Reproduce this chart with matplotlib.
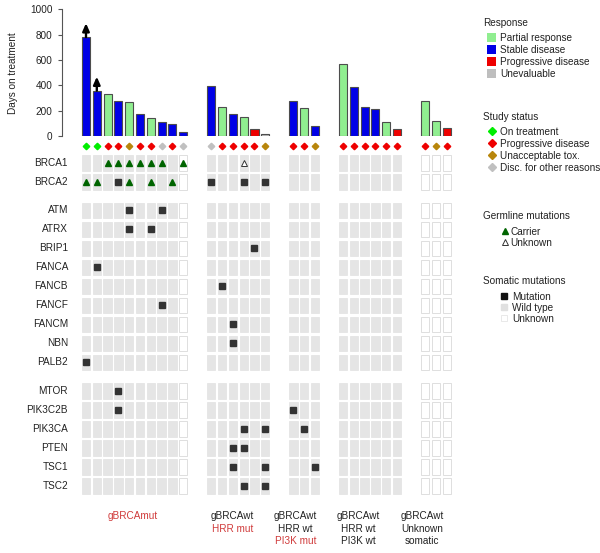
"""
Swimmer-style bar chart of days on treatment with a mutation grid below.
"""

import numpy as np
import matplotlib
matplotlib.use("Agg")
import matplotlib.pyplot as plt
from matplotlib.patches import Patch
from matplotlib.lines import Line2D

plt.rcParams["font.family"] = ["Liberation Sans", "DejaVu Sans"]


# ------------------------------------------------------------------
# Data
# ------------------------------------------------------------------
group_sizes = [10, 6, 3, 6, 3]
group_lines = [
    ["gBRCAmut"],
    ["gBRCAwt", "HRR mut"],
    ["gBRCAwt", "HRR wt", "PI3K mut"],
    ["gBRCAwt", "HRR wt", "PI3K wt"],
    ["gBRCAwt", "Unknown", "somatic"],
]
group_lines_red = [
    [True],
    [False, True],
    [False, False, True],
    [False, False, False],
    [False, False, False],
]

days = [780, 358, 332, 279, 266, 171, 142, 113, 97, 29,
        397, 226, 171, 147, 58, 13,
        279, 221, 79,
        566, 389, 226, 211, 111, 53,
        276, 118, 63]
response = ["SD", "SD", "PR", "SD", "PR", "SD", "PR", "SD", "SD", "SD",
            "SD", "PR", "SD", "PR", "PD", "NE",
            "SD", "PR", "SD",
            "PR", "SD", "SD", "SD", "PR", "PD",
            "PR", "PR", "PD"]
status = ["on", "on", "pd", "pd", "tox", "pd", "pd", "other", "pd", "other",
          "other", "pd", "pd", "pd", "pd", "tox",
          "pd", "pd", "tox",
          "pd", "pd", "pd", "pd", "pd", "pd",
          "pd", "tox", "pd"]
ongoing = [0, 1]                       # patients still on treatment (arrows)
somatic_unknown = [9, 25, 26, 27]      # patients with no somatic data

gene_blocks = [
    ["BRCA1", "BRCA2"],
    ["ATM", "ATRX", "BRIP1", "FANCA", "FANCB", "FANCF", "FANCM", "NBN", "PALB2"],
    ["MTOR", "PIK3C2B", "PIK3CA", "PTEN", "TSC1", "TSC2"],
]

germline_carrier = {"BRCA1": [2, 3, 4, 5, 6, 7, 9],
                    "BRCA2": [0, 1, 4, 6, 8]}
germline_unknown = {"BRCA1": [13]}

somatic = {
    "BRCA2": [3, 10, 13, 15],
    "ATM": [4, 7],
    "ATRX": [4, 6],
    "BRIP1": [14],
    "FANCA": [1],
    "FANCB": [11],
    "FANCF": [7],
    "FANCM": [12],
    "NBN": [12],
    "PALB2": [0],
    "MTOR": [3],
    "PIK3C2B": [3, 16],
    "PIK3CA": [13, 15, 17],
    "PTEN": [12, 13],
    "TSC1": [12, 15, 18],
    "TSC2": [13, 15],
}

# ------------------------------------------------------------------
# Styles
# ------------------------------------------------------------------
RESP_COL = {"PR": "#90EE90", "SD": "#0000E6", "PD": "#EE0000", "NE": "#BEBEBE"}
RESP_LAB = {"PR": "Partial response", "SD": "Stable disease",
            "PD": "Progressive disease", "NE": "Unevaluable"}
STAT_COL = {"on": "#00EE00", "pd": "#EE0000", "tox": "#B8860B", "other": "#C0C0C0"}
STAT_LAB = {"on": "On treatment", "pd": "Progressive disease",
            "tox": "Unacceptable tox.", "other": "Disc. for other reasons"}
RED_TXT = "#D03A3A"
TXT = "#222222"
CELL = "#E5E5E5"
MUT = "#333333"
GERM = "#006400"
FS = 7.2

# ------------------------------------------------------------------
# Layout (pixels of a 600x553 canvas)
# ------------------------------------------------------------------
W, H = 600, 553
PX = 10.8        # pixels per column
X0 = 86          # pixel of first column centre
GAP = 1.6        # extra columns between groups
AX_L, AX_R = 40, 470

xpos = []
start = 0.0
centers = []
for n in group_sizes:
    xpos.extend(start + np.arange(n))
    centers.append(start + (n - 1) / 2)
    start += n + GAP
xpos = np.array(xpos)

rows = []
genes = []
r = 0.0
for block in gene_blocks:
    for g in block:
        genes.append(g)
        rows.append(r)
        r += 1
    r += 0.5
gene_row = dict(zip(genes, rows))


def rect(l, t, rr, b):
    return [l / W, 1 - b / H, (rr - l) / W, (b - t) / H]


xlim = ((AX_L - X0) / PX, (AX_R - X0) / PX)

fig = plt.figure(figsize=(6, 5.53), dpi=100)

# ------------------------------------------------------------------
# Bars
# ------------------------------------------------------------------
ax = fig.add_axes(rect(AX_L, 9.3, AX_R, 136))
ax.bar(xpos, days, width=0.75,
       color=[RESP_COL[k] for k in response],
       edgecolor="#4D4D4D", linewidth=0.8, zorder=2)
for i in ongoing:
    ax.annotate("", xy=(xpos[i], days[i] + 110), xytext=(xpos[i], days[i]),
                arrowprops=dict(arrowstyle="-|>,head_length=0.45,head_width=0.2",
                                lw=1.7, color="black", shrinkA=0, shrinkB=0))
ax.set_xlim(*xlim)
ax.set_ylim(0, 1000)
ax.set_yticks(np.arange(0, 1001, 200))
for s in ["top", "right", "bottom"]:
    ax.spines[s].set_visible(False)
ax.spines["left"].set_position(("data", (62 - X0) / PX))
ax.spines["left"].set_bounds(0, 1000)
ax.spines["left"].set_color("#555555")
ax.spines["left"].set_linewidth(0.8)
ax.set_xticks([])
ax.tick_params(axis="y", labelsize=FS, length=3, width=0.8,
               color="#555555", labelcolor=TXT, pad=4)
ax.set_ylabel("Days on treatment", fontsize=FS, color=TXT)
ax.yaxis.set_label_coords((18 - AX_L) / (AX_R - AX_L), 0.5)
ax.patch.set_visible(False)

# ------------------------------------------------------------------
# Mutation grid
# ------------------------------------------------------------------
hm = fig.add_axes(rect(AX_L, 140, AX_R, 553))
hm.set_xlim(*xlim)
hm.set_ylim((553 - 163) / 19, (140 - 163) / 19)
hm.axis("off")

# study status diamonds
for k in STAT_COL:
    idx = [i for i, s in enumerate(status) if s == k]
    hm.plot(xpos[idx], np.full(len(idx), -0.9), "D", ls="",
            color=STAT_COL[k], ms=3.3)

face = [("white" if i in somatic_unknown else CELL) for i in range(len(days))]
edge = [("#D9D9D9" if i in somatic_unknown else CELL) for i in range(len(days))]
for g in genes:
    y = gene_row[g]
    hm.bar(xpos, 0.82, bottom=y - 0.41, width=0.77, color=face,
           edgecolor=edge, linewidth=0.6)
    hm.text((68 - X0) / PX, y, g, ha="right", va="center", fontsize=FS, color=TXT)
    if g in somatic:
        idx = somatic[g]
        hm.plot(xpos[idx], np.full(len(idx), y), "s", ls="", color=MUT, ms=4.2)
    if g in germline_carrier:
        idx = germline_carrier[g]
        hm.plot(xpos[idx], np.full(len(idx), y), "^", ls="", color=GERM, ms=4.3)
    if g in germline_unknown:
        idx = germline_unknown[g]
        hm.plot(xpos[idx], np.full(len(idx), y), "^", ls="", mfc="white",
                mec="#333333", mew=0.7, ms=4.6)

# group labels (the source places them slightly left of the group centre)
for c, lines, reds in zip(centers, group_lines, group_lines_red):
    for j, (txt, red) in enumerate(zip(lines, reds)):
        hm.text(0.96 * c, 18.58 + 0.66 * j, txt, ha="center", va="center",
                fontsize=FS, color=RED_TXT if red else TXT)

# ------------------------------------------------------------------
# Legends
# ------------------------------------------------------------------
def add_legend(title, handles, labels, xt, yt, xi, yi, hl, htp, ls):
    fig.text(xt / W, 1 - yt / H, title, fontsize=FS, va="center",
             ha="left", color=TXT)
    fig.legend(handles, labels, loc="upper left",
               bbox_to_anchor=(xi / W, 1 - yi / H), frameon=False,
               borderpad=0, borderaxespad=0, handlelength=hl,
               handleheight=0.9, handletextpad=htp, labelspacing=ls,
               fontsize=FS, labelcolor=TXT)


add_legend("Response",
           [Patch(facecolor=RESP_COL[k], edgecolor="none") for k in RESP_COL],
           [RESP_LAB[k] for k in RESP_COL], 483, 23, 487, 33, 0.9, 0.4, 0.2)
add_legend("Study status",
           [Line2D([], [], marker="D", ls="", color=STAT_COL[k], ms=4)
            for k in STAT_COL],
           [STAT_LAB[k] for k in STAT_COL], 483, 117, 487, 127, 0.9, 0.4, 0.2)
add_legend("Germline mutations",
           [Line2D([], [], marker="^", ls="", color=GERM, ms=5),
            Line2D([], [], marker="^", ls="", mfc="white", mec="#333333",
                   mew=0.7, ms=5)],
           ["Carrier", "Unknown"], 483, 216, 502, 227, 0.6, 0.25, 0.1)
add_legend("Somatic mutations",
           [Line2D([], [], marker="s", ls="", color="#111111", ms=5),
            Line2D([], [], marker="s", ls="", color="#E0E0E0", ms=5),
            Line2D([], [], marker="s", ls="", mfc="white", mec="#E5E5E5",
                   mew=0.6, ms=5)],
           ["Mutation", "Wild type", "Unknown"], 483, 281, 499, 292, 0.9, 0.4, 0.1)

fig.savefig("out.png", dpi=100)
